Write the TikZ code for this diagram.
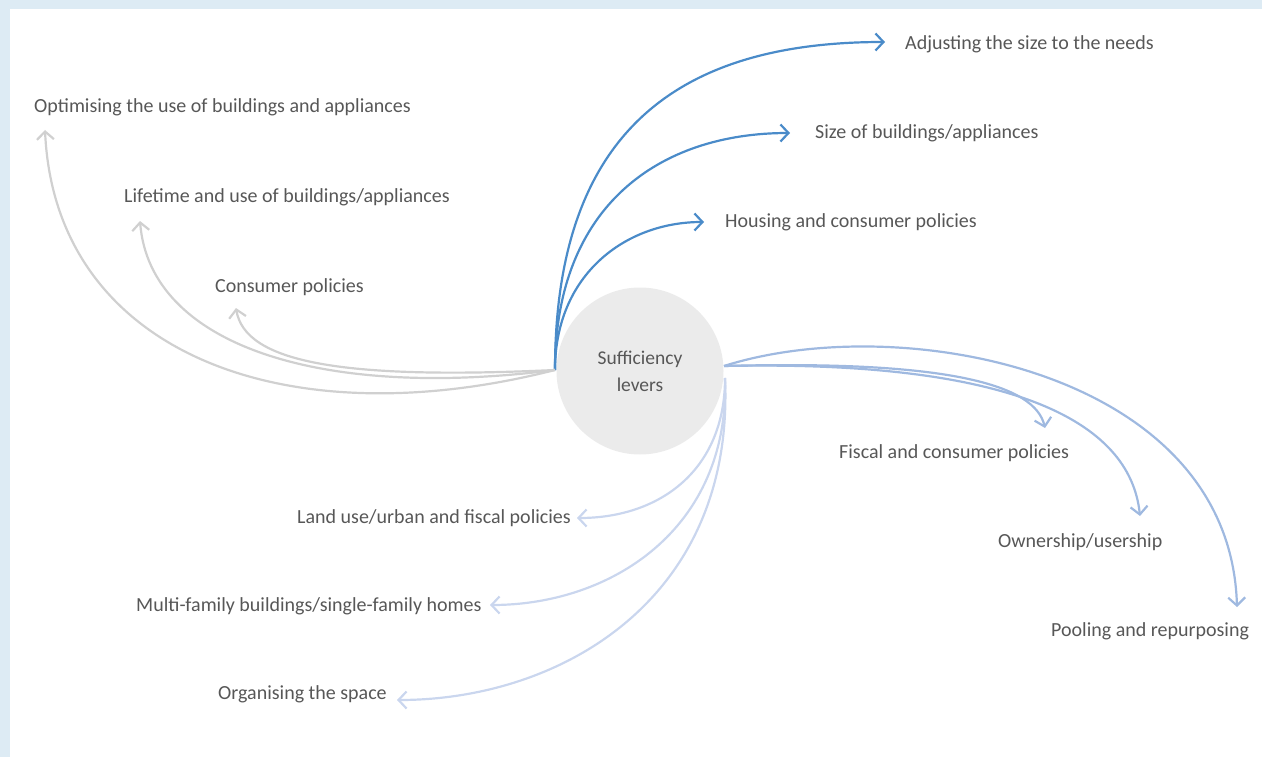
\documentclass[tikz,border=0pt]{standalone}
\usepackage{fontspec}
\setmainfont{Carlito}
\usetikzlibrary{arrows.meta}
\definecolor{frameblue}{HTML}{DDEBF4}
\definecolor{darkblue}{HTML}{4A8BC9}
\definecolor{midblue}{HTML}{9FB9E0}
\definecolor{paleblue}{HTML}{CAD6EE}
\definecolor{greyarrow}{HTML}{D0D0D0}
\definecolor{circfill}{HTML}{EBEBEB}
\definecolor{txt}{HTML}{575757}
\tikzset{
  lbl/.style={anchor=base west, inner sep=0pt, text=txt, font=\fontsize{20}{24}\selectfont},
  conn/.style={line width=2.2pt, -{Straight Barb[length=8pt,width=17pt,line width=2.2pt]}},
}
\begin{document}
\begin{tikzpicture}[x=1pt,y=-1pt]
\useasboundingbox (0,0) rectangle (1262,757);
\fill[frameblue] (0,0) rectangle (1262,9);
\fill[frameblue] (0,0) rectangle (10,757);
\node[circle, fill=circfill, minimum size=167pt, inner sep=0pt, align=center, text=txt,
  font=\fontsize{19.5}{27}\selectfont] (c) at (640,371) {Sufficiency\\levers};
% labels
\node[lbl] (l1) at (905,50) {Adjusting the size to the needs};
\node[lbl] (l2) at (815,139) {Size of buildings/appliances};
\node[lbl] (l3) at (725,228) {Housing and consumer policies};
\node[lbl] (l4) at (34,113) {Optimising the use of buildings and appliances};
\node[lbl] (l5) at (124,203) {Lifetime and use of buildings/appliances};
\node[lbl] (l6) at (215,292) {Consumer policies};
\node[lbl] (l7) at (839,458) {Fiscal and consumer policies};
\node[lbl] (l8) at (998,547) {Ownership/usership};
\node[lbl] (l9) at (1051,636) {Pooling and repurposing};
\node[lbl] (l10) at (297,523) {Land use/urban and fiscal policies};
\node[lbl] (l11) at (136,611) {Multi-family buildings/single-family homes};
\node[lbl] (l12) at (218,699) {Organising the space};
% start and tip coordinates
\coordinate (sL) at (555,370);
\coordinate (sR) at (724,366);
\coordinate (sB) at (725,378);
\coordinate (t1) at (885,42);
\coordinate (t2) at (790,133);
\coordinate (t3) at (704,222);
\coordinate (t4) at (45,130);
\coordinate (t5) at (140,221);
\coordinate (t6) at (236,308);
\coordinate (t7) at (1045,428);
\coordinate (t8) at (1140,516);
\coordinate (t9) at (1237,607);
\coordinate (t10) at (577,518);
\coordinate (t11) at (490,605);
\coordinate (t12) at (397,700);
% dark blue
\draw[conn, darkblue] (sL) .. controls (555,130) and (680,42) .. (t1);
\draw[conn, darkblue] (sL) .. controls (555,205) and (660,133) .. (t2);
\draw[conn, darkblue] (sL) .. controls (555,275) and (625,222) .. (t3);
% grey
\draw[conn, greyarrow] (sL) .. controls (280,440) and (55,350) .. (t4);
\draw[conn, greyarrow] (sL) .. controls (320,400) and (150,345) .. (t5);
\draw[conn, greyarrow] (sL) .. controls (340,380) and (245,362) .. (t6);
% mid blue
\draw[conn, midblue] (sR) .. controls (950,360) and (1035,385) .. (t7);
\draw[conn, midblue] (sR) .. controls (1010,360) and (1130,420) .. (t8);
\draw[conn, midblue] (sR) .. controls (900,310) and (1230,370) .. (t9);
% pale blue
\draw[conn, paleblue] (sB) .. controls (725,470) and (660,518) .. (t10);
\draw[conn, paleblue] (sB) .. controls (730,530) and (610,605) .. (t11);
\draw[conn, paleblue] (sB) .. controls (735,600) and (560,700) .. (t12);
\end{tikzpicture}
\end{document}
